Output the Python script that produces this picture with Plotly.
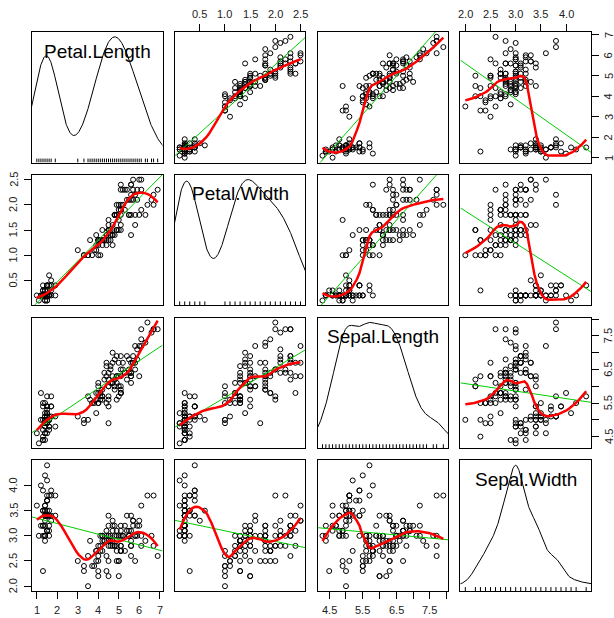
import numpy as np
import plotly.graph_objects as go
from plotly.subplots import make_subplots

# ---- data (iris) ----
sepal_length = [5.1,4.9,4.7,4.6,5.0,5.4,4.6,5.0,4.4,4.9,5.4,4.8,4.8,4.3,5.8,5.7,5.4,5.1,5.7,5.1,5.4,5.1,4.6,5.1,4.8,5.0,5.0,5.2,5.2,4.7,4.8,5.4,5.2,5.5,4.9,5.0,5.5,4.9,4.4,5.1,5.0,4.5,4.4,5.0,5.1,4.8,5.1,4.6,5.3,5.0,
7.0,6.4,6.9,5.5,6.5,5.7,6.3,4.9,6.6,5.2,5.0,5.9,6.0,6.1,5.6,6.7,5.6,5.8,6.2,5.6,5.9,6.1,6.3,6.1,6.4,6.6,6.8,6.7,6.0,5.7,5.5,5.5,5.8,6.0,5.4,6.0,6.7,6.3,5.6,5.5,5.5,6.1,5.8,5.0,5.6,5.7,5.7,6.2,5.1,5.7,
6.3,5.8,7.1,6.3,6.5,7.6,4.9,7.3,6.7,7.2,6.5,6.4,6.8,5.7,5.8,6.4,6.5,7.7,7.7,6.0,6.9,5.6,7.7,6.3,6.7,7.2,6.2,6.1,6.4,7.2,7.4,7.9,6.4,6.3,6.1,7.7,6.3,6.4,6.0,6.9,6.7,6.9,5.8,6.8,6.7,6.7,6.3,6.5,6.2,5.9]
sepal_width = [3.5,3.0,3.2,3.1,3.6,3.9,3.4,3.4,2.9,3.1,3.7,3.4,3.0,3.0,4.0,4.4,3.9,3.5,3.8,3.8,3.4,3.7,3.6,3.3,3.4,3.0,3.4,3.5,3.4,3.2,3.1,3.4,4.1,4.2,3.1,3.2,3.5,3.6,3.0,3.4,3.5,2.3,3.2,3.5,3.8,3.0,3.8,3.2,3.7,3.3,
3.2,3.2,3.1,2.3,2.8,2.8,3.3,2.4,2.9,2.7,2.0,3.0,2.2,2.9,2.9,3.1,3.0,2.7,2.2,2.5,3.2,2.8,2.5,2.8,2.9,3.0,2.8,3.0,2.9,2.6,2.4,2.4,2.7,2.7,3.0,3.4,3.1,2.3,3.0,2.5,2.6,3.0,2.6,2.3,2.7,3.0,2.9,2.9,2.5,2.8,
3.3,2.7,3.0,2.9,3.0,3.0,2.5,2.9,2.5,3.6,3.2,2.7,3.0,2.5,2.8,3.2,3.0,3.8,2.6,2.2,3.2,2.8,2.8,2.7,3.3,3.2,2.8,3.0,2.8,3.0,2.8,3.8,2.8,2.8,2.6,3.0,3.4,3.1,3.0,3.1,3.1,3.1,2.7,3.2,3.3,3.0,2.5,3.0,3.4,3.0]
petal_length = [1.4,1.4,1.3,1.5,1.4,1.7,1.4,1.5,1.4,1.5,1.5,1.6,1.4,1.1,1.2,1.5,1.3,1.4,1.7,1.5,1.7,1.5,1.0,1.7,1.9,1.6,1.6,1.5,1.4,1.6,1.6,1.5,1.5,1.4,1.5,1.2,1.3,1.4,1.3,1.5,1.3,1.3,1.3,1.6,1.9,1.4,1.6,1.4,1.5,1.4,
4.7,4.5,4.9,4.0,4.6,4.5,4.7,3.3,4.6,3.9,3.5,4.2,4.0,4.7,3.6,4.4,4.5,4.1,4.5,3.9,4.8,4.0,4.9,4.7,4.3,4.4,4.8,5.0,4.5,3.5,3.8,3.7,3.9,5.1,4.5,4.5,4.7,4.4,4.1,4.0,4.4,4.6,4.0,3.3,4.2,4.2,4.2,4.3,3.0,4.1,
6.0,5.1,5.9,5.6,5.8,6.6,4.5,6.3,5.8,6.1,5.1,5.3,5.5,5.0,5.1,5.3,5.5,6.7,6.9,5.0,5.7,4.9,6.7,4.9,5.7,6.0,4.8,4.9,5.6,5.8,6.1,6.4,5.6,5.1,5.6,6.1,5.6,5.5,4.8,5.4,5.6,5.1,5.1,5.9,5.7,5.2,5.0,5.2,5.4,5.1]
petal_width = [0.2,0.2,0.2,0.2,0.2,0.4,0.3,0.2,0.2,0.1,0.2,0.2,0.1,0.1,0.2,0.4,0.4,0.3,0.3,0.3,0.2,0.4,0.2,0.5,0.2,0.2,0.4,0.2,0.2,0.2,0.2,0.4,0.1,0.2,0.2,0.2,0.2,0.1,0.2,0.2,0.3,0.3,0.2,0.6,0.4,0.3,0.2,0.2,0.2,0.2,
1.4,1.5,1.5,1.3,1.5,1.3,1.6,1.0,1.3,1.4,1.0,1.5,1.0,1.4,1.3,1.4,1.5,1.0,1.5,1.1,1.8,1.3,1.5,1.2,1.3,1.4,1.4,1.7,1.5,1.0,1.1,1.0,1.2,1.6,1.5,1.6,1.5,1.3,1.3,1.3,1.2,1.4,1.2,1.0,1.3,1.2,1.3,1.3,1.1,1.3,
2.5,1.9,2.1,1.8,2.2,2.1,1.7,1.8,1.8,2.5,2.0,1.9,2.1,2.0,2.4,2.3,1.8,2.2,2.3,1.5,2.3,2.0,2.0,1.8,2.1,1.8,1.8,1.8,2.1,1.6,1.9,2.0,2.2,1.5,1.4,2.3,2.4,1.8,1.8,2.1,2.4,2.3,1.9,2.3,2.5,2.3,1.9,2.0,2.3,1.8]

var_names = ["Petal.Length", "Petal.Width", "Sepal.Length", "Sepal.Width"]
var_data = [petal_length, petal_width, sepal_length, sepal_width]

# tick values / labels per variable
tick_vals = [
    [1, 2, 3, 4, 5, 6, 7],
    [0.5, 1.0, 1.5, 2.0, 2.5],
    [4.5, 5.0, 5.5, 6.0, 6.5, 7.0, 7.5, 8.0],
    [2.0, 2.5, 3.0, 3.5, 4.0],
]
tick_text = [
    ["1", "2", "3", "4", "5", "6", "7"],
    ["0.5", "1.0", "1.5", "2.0", "2.5"],
    ["4.5", "", "5.5", "", "6.5", "", "7.5", ""],
    ["2.0", "2.5", "3.0", "3.5", "4.0"],
]

# ---- helpers (statistics computed from the data) ----
def ext_range(v):
    lo, hi = min(v), max(v)
    d = (hi - lo) * 0.04
    return [lo - d, hi + d]


def loess_fit(x, y, xe, span=0.5, degree=2, iters=4, cell=0.2):
    """1-D loess with kd-tree vertices and cubic Hermite interpolation (like R's default surface)."""
    x = np.asarray(x, float); y = np.asarray(y, float)
    n = len(x); q = int(np.floor(n * span)); fc = int(np.floor(n * span * cell))
    xs = np.sort(x)
    mu = 0.005 * max(xs[-1] - xs[0], 1e-10 * max(abs(xs[0]), abs(xs[-1])) + 1e-30)
    verts = [xs[0] - mu, xs[-1] + mu]

    def split(l, u, vlo, vhi):
        if u - l + 1 <= fc:
            return
        m = (l + u) // 2
        off = 0
        while (m + off) < u and (m + off) >= l:
            if xs[m + off - 1] == xs[m + off]:
                off = -off
                if off >= 0:
                    off += 1
            else:
                m = m + off
                break
        xm = xs[m - 1]
        if vlo == xm or vhi == xm:
            return
        verts.append(xm)
        split(l, m, vlo, xm)
        split(m + 1, u, xm, vhi)

    split(1, n, verts[0], verts[1])
    V = np.array(sorted(set(verts)))

    def vertex_fits(wr):
        vals, slopes = [], []
        for v0 in V:
            d = np.abs(x - v0)
            h = np.sort(d)[q - 1]
            if h <= 0:
                h = 1e-9
            u = d / h
            w = np.where(u < 1, (1 - u ** 3) ** 3, 0.0) * wr
            X = np.vander(x - v0, degree + 1, increasing=True)
            sw = np.sqrt(w)
            beta, *_ = np.linalg.lstsq(X * sw[:, None], y * sw, rcond=None)
            vals.append(beta[0]); slopes.append(beta[1])
        return np.array(vals), np.array(slopes)

    def interp(x0s, vals, slopes):
        x0s = np.asarray(x0s, float)
        i = np.clip(np.searchsorted(V, x0s, side="right") - 1, 0, len(V) - 2)
        v0, v1 = V[i], V[i + 1]
        h = v1 - v0
        t = (x0s - v0) / h
        phi0 = (1 - t) ** 2 * (1 + 2 * t)
        phi1 = t ** 2 * (3 - 2 * t)
        psi0 = t * (1 - t) ** 2
        psi1 = -t ** 2 * (1 - t)
        return phi0 * vals[i] + phi1 * vals[i + 1] + (psi0 * slopes[i] + psi1 * slopes[i + 1]) * h

    rob = np.ones(n)
    for j in range(iters):
        vals, slopes = vertex_fits(rob)
        if j == iters - 1:
            return interp(xe, vals, slopes)
        r = np.abs(y - interp(x, vals, slopes))
        cmad = 6 * np.median(r)
        rob = np.where(r <= 0.001 * cmad, 1.0,
                       np.where(r > 0.999 * cmad, 0.0, (1 - (r / cmad) ** 2) ** 2))


def density(v):
    v = np.asarray(v, float); n = len(v)
    q75, q25 = np.percentile(v, [75, 25])
    bw = 0.9 * min(np.std(v, ddof=1), (q75 - q25) / 1.34) * n ** (-0.2)
    gx = np.linspace(v.min() - 3 * bw, v.max() + 3 * bw, 512)
    dens = np.exp(-0.5 * ((gx[:, None] - v[None, :]) / bw) ** 2).sum(1) / (n * bw * np.sqrt(2 * np.pi))
    return gx, dens


N = 4
sp = 12.33 / 559
fig = make_subplots(rows=N, cols=N, horizontal_spacing=sp, vertical_spacing=sp)

FONT = "Liberation Sans, Arial, sans-serif"
TICKFONT = dict(family=FONT, size=11, color="#222")
annotations = []


def axid(r, c):
    k = r * N + c + 1
    return "" if k == 1 else str(k)


for r in range(N):
    for c in range(N):
        xv = np.asarray(var_data[c], float)
        yv = np.asarray(var_data[r], float)
        xr = ext_range(var_data[c]); yr = ext_range(var_data[r])
        row, col = r + 1, c + 1
        s = axid(r, c)
        if r == c:
            gx, dens = density(xv)
            gy = xv.min() + dens * (xv.max() - xv.min()) / (dens.max() - dens.min())
            fig.add_trace(go.Scatter(x=gx, y=gy, mode="lines", line=dict(color="black", width=1),
                                     hoverinfo="skip", showlegend=False), row=row, col=col)
            ux = np.unique(xv)
            rx, ry = [], []
            tl = yr[0] + 0.03 * (yr[1] - yr[0])
            for u in ux:
                rx += [u, u, None]; ry += [yr[0], tl, None]
            fig.add_trace(go.Scatter(x=rx, y=ry, mode="lines", line=dict(color="black", width=1),
                                     hoverinfo="skip", showlegend=False), row=row, col=col)
            annotations.append(dict(text=var_names[r], xref="x%s domain" % s, yref="y%s domain" % s,
                                    x=0.5, y=1 - 19 / 130.5, xanchor="center", yanchor="middle",
                                    showarrow=False, font=dict(family=FONT, size=19, color="black")))
        else:
            fig.add_trace(go.Scatter(x=xv, y=yv, mode="markers",
                                     marker=dict(symbol="circle-open", size=5, color="black",
                                                 line=dict(width=1, color="black")),
                                     hoverinfo="skip", showlegend=False), row=row, col=col)
            b1, b0 = np.polyfit(xv, yv, 1)
            lx = np.array(xr)
            fig.add_trace(go.Scatter(x=lx, y=b0 + b1 * lx, mode="lines",
                                     line=dict(color="#00CD00", width=1),
                                     hoverinfo="skip", showlegend=False), row=row, col=col)
            xe = np.linspace(xv.min(), xv.max(), 50)
            ye = loess_fit(xv, yv, xe)
            fig.add_trace(go.Scatter(x=xe, y=ye, mode="lines",
                                     line=dict(color="#FF0000", width=2.5),
                                     hoverinfo="skip", showlegend=False), row=row, col=col)

        # axes (frame + outward ticks on the alternating outer sides)
        xa = dict(range=xr, showgrid=False, zeroline=False, showline=True, mirror=True,
                  linecolor="black", linewidth=1, showticklabels=False, ticks="", automargin=False)
        ya = dict(range=yr, showgrid=False, zeroline=False, showline=True, mirror=True,
                  linecolor="black", linewidth=1, showticklabels=False, ticks="", automargin=False)
        tickstyle = dict(ticks="outside", ticklen=7, tickwidth=1, tickcolor="black")
        if (c % 2 == 0 and r == N - 1) or (c % 2 == 1 and r == 0):
            top = (r == 0)
            xa.update(tickstyle)
            xa.update(tickmode="array", tickvals=tick_vals[c], side="top" if top else "bottom")
            for tv, tt in zip(tick_vals[c], tick_text[c]):
                if tt:
                    annotations.append(dict(text=tt, xref="x%s" % s, x=tv, yref="y%s domain" % s,
                                            y=1 if top else 0, yshift=18 if top else -19.3,
                                            xanchor="center", yanchor="middle", showarrow=False,
                                            font=TICKFONT))
        if (r % 2 == 1 and c == 0) or (r % 2 == 0 and c == N - 1):
            right = (c == N - 1)
            ya.update(tickstyle)
            ya.update(tickmode="array", tickvals=tick_vals[r], side="right" if right else "left")
            for tv, tt in zip(tick_vals[r], tick_text[r]):
                if tt:
                    annotations.append(dict(text=tt, yref="y%s" % s, y=tv, xref="x%s domain" % s,
                                            x=1 if right else 0, xshift=17.3 if right else -18.8,
                                            textangle=-90, xanchor="center", yanchor="middle",
                                            showarrow=False, font=TICKFONT))
        fig.update_xaxes(xa, row=row, col=col)
        fig.update_yaxes(ya, row=row, col=col)

fig.update_layout(template="none", width=614, height=618, margin=dict(l=32, r=23, t=32, b=27),
                  paper_bgcolor="white", plot_bgcolor="white", annotations=annotations,
                  font=dict(family=FONT))
fig.write_html("out.html", config={"displayModeBar": False, "staticPlot": True},
               post_script="document.body.style.margin='0px';document.body.style.padding='0px';"
                           "document.body.style.overflow='hidden';")
